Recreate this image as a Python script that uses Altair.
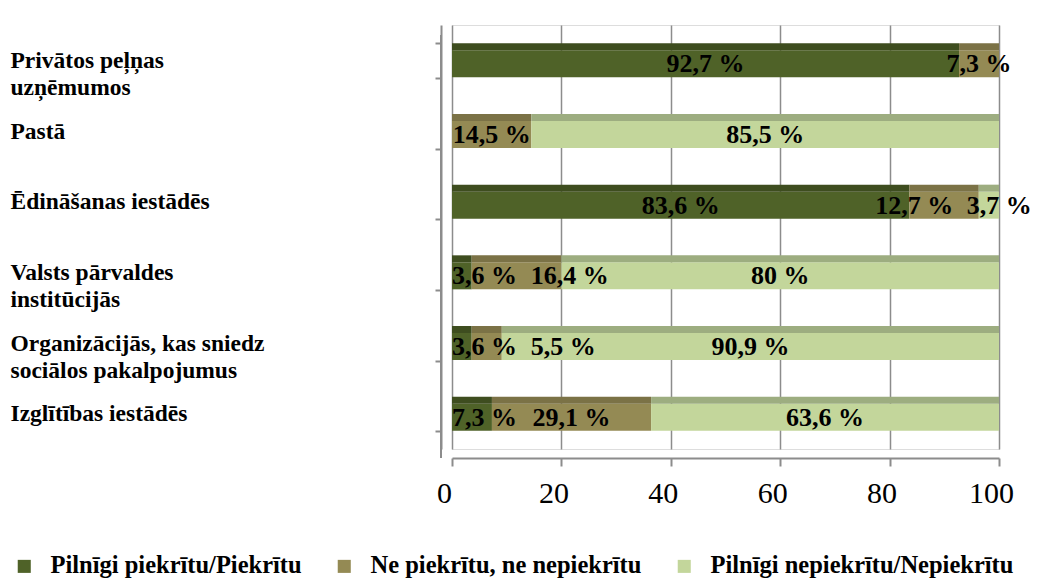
import altair as alt
import pandas as pd

# ---- data ----
categories = [
    "Privātos peļņas uzņēmumos",
    "Pastā",
    "Ēdināšanas iestādēs",
    "Valsts pārvaldes institūcijās",
    "Organizācijās, kas sniedz sociālos pakalpojumus",
    "Izglītības iestādēs",
]
category_lines = [
    ["Privātos peļņas", "uzņēmumos"],
    ["Pastā"],
    ["Ēdināšanas iestādēs"],
    ["Valsts pārvaldes", "institūcijās"],
    ["Organizācijās, kas sniedz", "sociālos pakalpojumus"],
    ["Izglītības iestādēs"],
]
series = [
    "Pilnīgi piekrītu/Piekrītu",
    "Ne piekrītu, ne nepiekrītu",
    "Pilnīgi nepiekrītu/Nepiekrītu",
]
agree = [92.7, 0, 83.6, 3.6, 3.6, 7.3]
neutral = [7.3, 14.5, 12.7, 16.4, 5.5, 29.1]
disagree = [0, 85.5, 3.7, 80, 90.9, 63.6]
x_ticks = [0, 20, 40, 60, 80, 100]

# ---- styling ----
colors = ["#4F6228", "#948A54", "#C3D69B"]
top_colors = ["#3E4D1F", "#7B7246", "#9DAD80"]
SERIF = "Liberation Serif, Times New Roman, DejaVu Serif, serif"
GRID = "#8c8c8c"
W, H = 547, 424
LABEL_FS = 26
PX_PER_UNIT = W / 100.0


def fmt(v):
    return f"{v:g}".replace(".", ",") + " %"


def label_width_px(s):
    w = 0.0
    for ch in s:
        if ch.isdigit():
            w += 0.5
        elif ch in ", ":
            w += 0.25
        elif ch == "%":
            w += 1.0
    return w * LABEL_FS


rows = []
labels = []
gap = 2.5
right_limit = 106.0
for ci, cat in enumerate(categories):
    vals = [agree[ci], neutral[ci], disagree[ci]]
    start = 0.0
    row_labels = []
    for si, v in enumerate(vals):
        if v > 0:
            rows.append({"cat": cat, "series": series[si], "start": start,
                         "end": start + v, "order": si})
            txt = fmt(v)
            hw = label_width_px(txt) / 2 / PX_PER_UNIT
            row_labels.append({"cat": cat, "text": txt, "pos": start + v / 2, "hw": hw})
        start += v
    # avoid overlapping labels (forward pass)
    for i, lb in enumerate(row_labels):
        if i == 0:
            lb["pos"] = max(lb["pos"], lb["hw"])
        else:
            prev = row_labels[i - 1]
            lb["pos"] = max(lb["pos"], prev["pos"] + prev["hw"] + lb["hw"] + gap)
    # keep inside the right edge (backward pass)
    last = row_labels[-1]
    if last["pos"] + last["hw"] > right_limit:
        last["pos"] = right_limit - last["hw"]
        for i in range(len(row_labels) - 2, -1, -1):
            nxt = row_labels[i + 1]
            lb = row_labels[i]
            lb["pos"] = min(lb["pos"], nxt["pos"] - nxt["hw"] - lb["hw"] - gap)
    labels.extend(row_labels)

bars_df = pd.DataFrame(rows)
labels_df = pd.DataFrame(labels)

label_expr = "".join(
    f"datum.label == {cat!r} ? {lines!r} : " for cat, lines in zip(categories, category_lines)
) + "datum.label"

y_enc = alt.Y(
    "cat:N",
    sort=categories,
    title=None,
    scale=alt.Scale(paddingInner=0.5, paddingOuter=0.25),
    axis=alt.Axis(
        labelExpr=label_expr,
        labelAlign="left",
        labelBaseline="middle",
        labelPadding=425,
        labelFont=SERIF,
        labelFontSize=23.5,
        labelFontWeight="bold",
        labelColor="#000000",
        labelLimit=0,
        labelLineHeight=27,
        offset=11,
        domain=True,
        domainColor=GRID,
        domainWidth=2,
        tickColor=GRID,
        tickWidth=2,
        tickSize=6,
        tickBand="extent",
        grid=False,
    ),
)

x_scale = alt.Scale(domain=[0, 100], nice=False)
x_axis = alt.Axis(
    values=x_ticks,
    title=None,
    grid=True,
    gridColor=GRID,
    gridWidth=1.5,
    domainColor=GRID,
    domainWidth=2,
    tickColor=GRID,
    tickWidth=2,
    tickSize=8,
    offset=9,
    labelFont=SERIF,
    labelFontSize=30,
    labelColor="#000000",
    labelPadding=12,
    labelOffset=-8,
    labelFlush=False,
)

# left wall line (decoration)
wall = alt.Chart(bars_df).mark_rule(color=GRID, strokeWidth=2).encode(
    x=alt.value(-11), y=alt.value(10), y2=alt.value(H + 9)
)

bars = alt.Chart(bars_df).mark_bar(size=27, yOffset=3.5).encode(
    x=alt.X("start:Q", scale=x_scale, axis=x_axis),
    x2="end:Q",
    y=y_enc,
    color=alt.Color(
        "series:N",
        scale=alt.Scale(domain=series, range=colors),
        legend=alt.Legend(
            title=None,
            orient="none",
            legendX=-440,
            legendY=529,
            direction="horizontal",
            columns=3,
            columnPadding=30,
            symbolType="square",
            symbolSize=170,
            symbolStrokeWidth=0,
            labelFont=SERIF,
            labelFontSize=24.5,
            labelFontWeight="bold",
            labelColor="#000000",
            labelLimit=0,
            labelOffset=14,
        ),
    ),
    order="order:Q",
)

tops = alt.Chart(bars_df).mark_bar(size=7, yOffset=-13.5).encode(
    x=alt.X("start:Q", scale=x_scale),
    x2="end:Q",
    y=alt.Y("cat:N", sort=categories),
    fill=alt.Fill("series:N", scale=alt.Scale(domain=series, range=top_colors), legend=None),
)

texts = alt.Chart(labels_df).mark_text(
    font=SERIF, fontSize=LABEL_FS, fontWeight="bold", color="#000000",
    align="center", baseline="middle", yOffset=4,
).encode(
    x=alt.X("pos:Q", scale=x_scale),
    y=alt.Y("cat:N", sort=categories),
    text="text:N",
)

chart = alt.layer(bars, tops, wall, texts).resolve_scale(
    color="independent", fill="independent"
).properties(
    width=W,
    height=H,
    padding={"left": 444, "top": 17, "right": 36, "bottom": 129},
    autosize=alt.AutoSizeParams(type="none"),
).configure_view(stroke=None).configure(background="#ffffff")

chart.save("out.html", embed_options={"renderer": "svg", "actions": False})
